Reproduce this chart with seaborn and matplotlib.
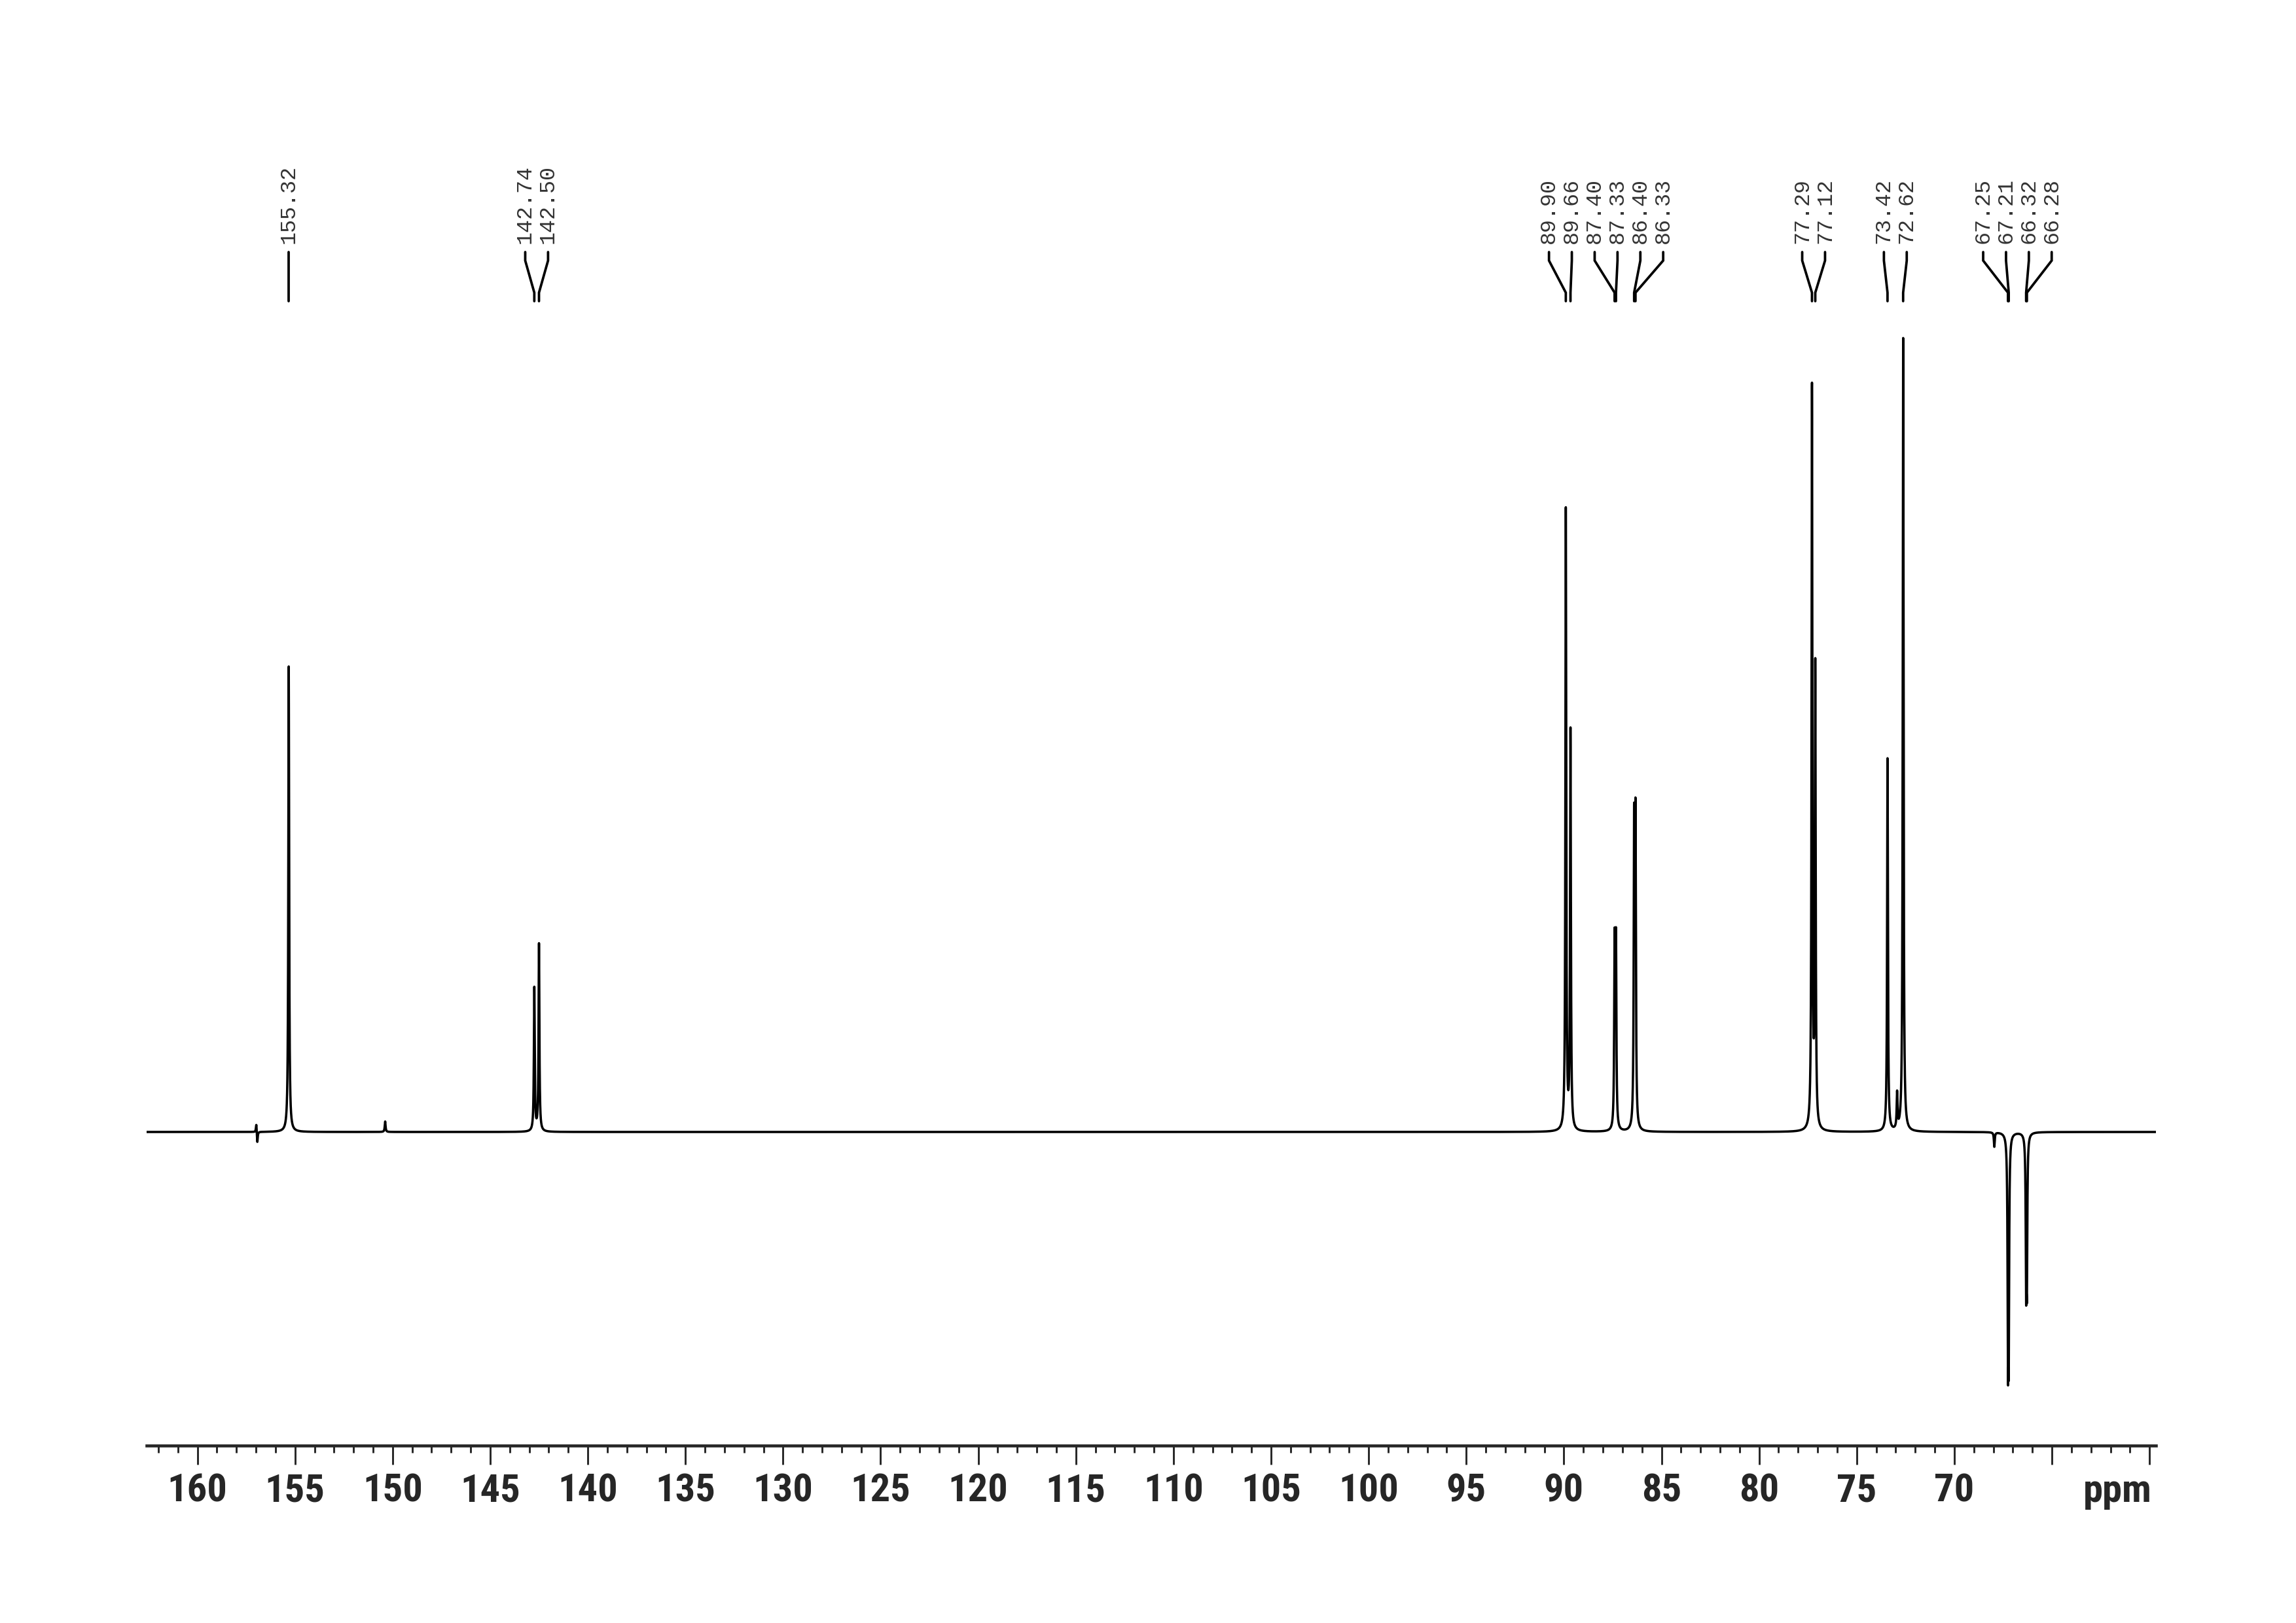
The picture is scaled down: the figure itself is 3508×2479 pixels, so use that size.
import numpy as np
import pandas as pd
import matplotlib
matplotlib.use("Agg")
import matplotlib.pyplot as plt
import matplotlib.transforms as mtransforms
from matplotlib.ticker import FixedLocator, MultipleLocator, FuncFormatter
import seaborn as sns

# picked peaks (ppm) and their intensities
shifts = [155.32, 142.74, 142.50, 89.90, 89.66, 87.40, 87.33, 86.40, 86.33,
          77.29, 77.12, 73.42, 72.62, 67.25, 67.21, 66.32, 66.28]
heights = [711, 219, 286, 950, 608, 280, 280, 450, 460,
           1130, 700, 570, 1214, -300, -290, -205, -200]

# small unlabelled features seen in the trace
minor_shifts = [156.98, 156.93, 150.38, 72.93, 67.95]
minor_heights = [14, -18, 16, 54, -22]

major_ticks = [160, 155, 150, 145, 140, 135, 130, 125, 120, 115, 110, 105,
               100, 95, 90, 85, 80, 75, 70, 65, 60]

sns.set_style("white")
plt.rcParams["font.family"] = ["Roboto Condensed", "Liberation Sans Narrow", "Liberation Sans", "DejaVu Sans"]

x_left, x_right = 162.6, 59.67
hwhm = 0.025

ppm = np.linspace(x_left, x_right, 40000)
inten = np.zeros_like(ppm)
for s, h in zip(shifts + minor_shifts, heights + minor_heights):
    inten += h * hwhm**2 / ((ppm - s)**2 + hwhm**2)

df = pd.DataFrame({"ppm": ppm, "I": inten})

fig = plt.figure(figsize=(3508 / 300, 2479 / 300), dpi=300)
ax = fig.add_axes([224 / 3508, 1 - 2208 / 2479, (3294 - 224) / 3508, (2208 - 200) / 2479])

sns.lineplot(data=df, x="ppm", y="I", ax=ax, color="black", lw=0.85,
             estimator=None, sort=False)

ax.set_xlim(x_left, x_right)
ax.set_ylim(-479, 1529)

# peak labels with leader lines, grouped when close together
groups = []
for s in shifts:
    if groups and groups[-1][-1] - s < 3:
        groups[-1].append(s)
    else:
        groups.append([s])

step = 1.17
for g in groups:
    c = np.mean(g)
    n = len(g)
    for i, s in enumerate(g):
        lx = c + ((n - 1) / 2 - i) * step
        ax.plot([lx, lx, s, s], [1344, 1331, 1282, 1269], color="black", lw=0.9,
                solid_joinstyle="miter")
        ax.text(lx, 1357, f"{s:.2f}", rotation=90, ha="center", va="bottom",
                family="Liberation Mono", fontsize=8, color="#333333")

# axis styling
for side in ["top", "left", "right"]:
    ax.spines[side].set_visible(False)
ax.spines["bottom"].set_linewidth(1.1)
ax.set_yticks([])
ax.xaxis.set_major_locator(FixedLocator(major_ticks))
ax.xaxis.set_minor_locator(MultipleLocator(1))


def tick_text(v, p):
    if round(v) == 60:
        return "ppm"
    if round(v) == 65:
        return ""
    return f"{v:.0f}"


ax.xaxis.set_major_formatter(FuncFormatter(tick_text))
ax.tick_params(axis="x", which="major", length=7, width=0.7, direction="out",
               pad=3, labelsize=14.5, bottom=True)
ax.tick_params(axis="x", which="minor", length=2.7, width=0.7, direction="out", bottom=True)
fig.canvas.draw()
for lab in ax.get_xticklabels():
    lab.set_fontweight("bold")
    if lab.get_text() == "ppm":
        lab.set_horizontalalignment("right")
        lab.set_transform(lab.get_transform() + mtransforms.ScaledTranslation(4 / 300, 0, fig.dpi_scale_trans))
ax.set_xlabel("")
ax.set_ylabel("")

fig.savefig("out.png", dpi=300, facecolor="white")
